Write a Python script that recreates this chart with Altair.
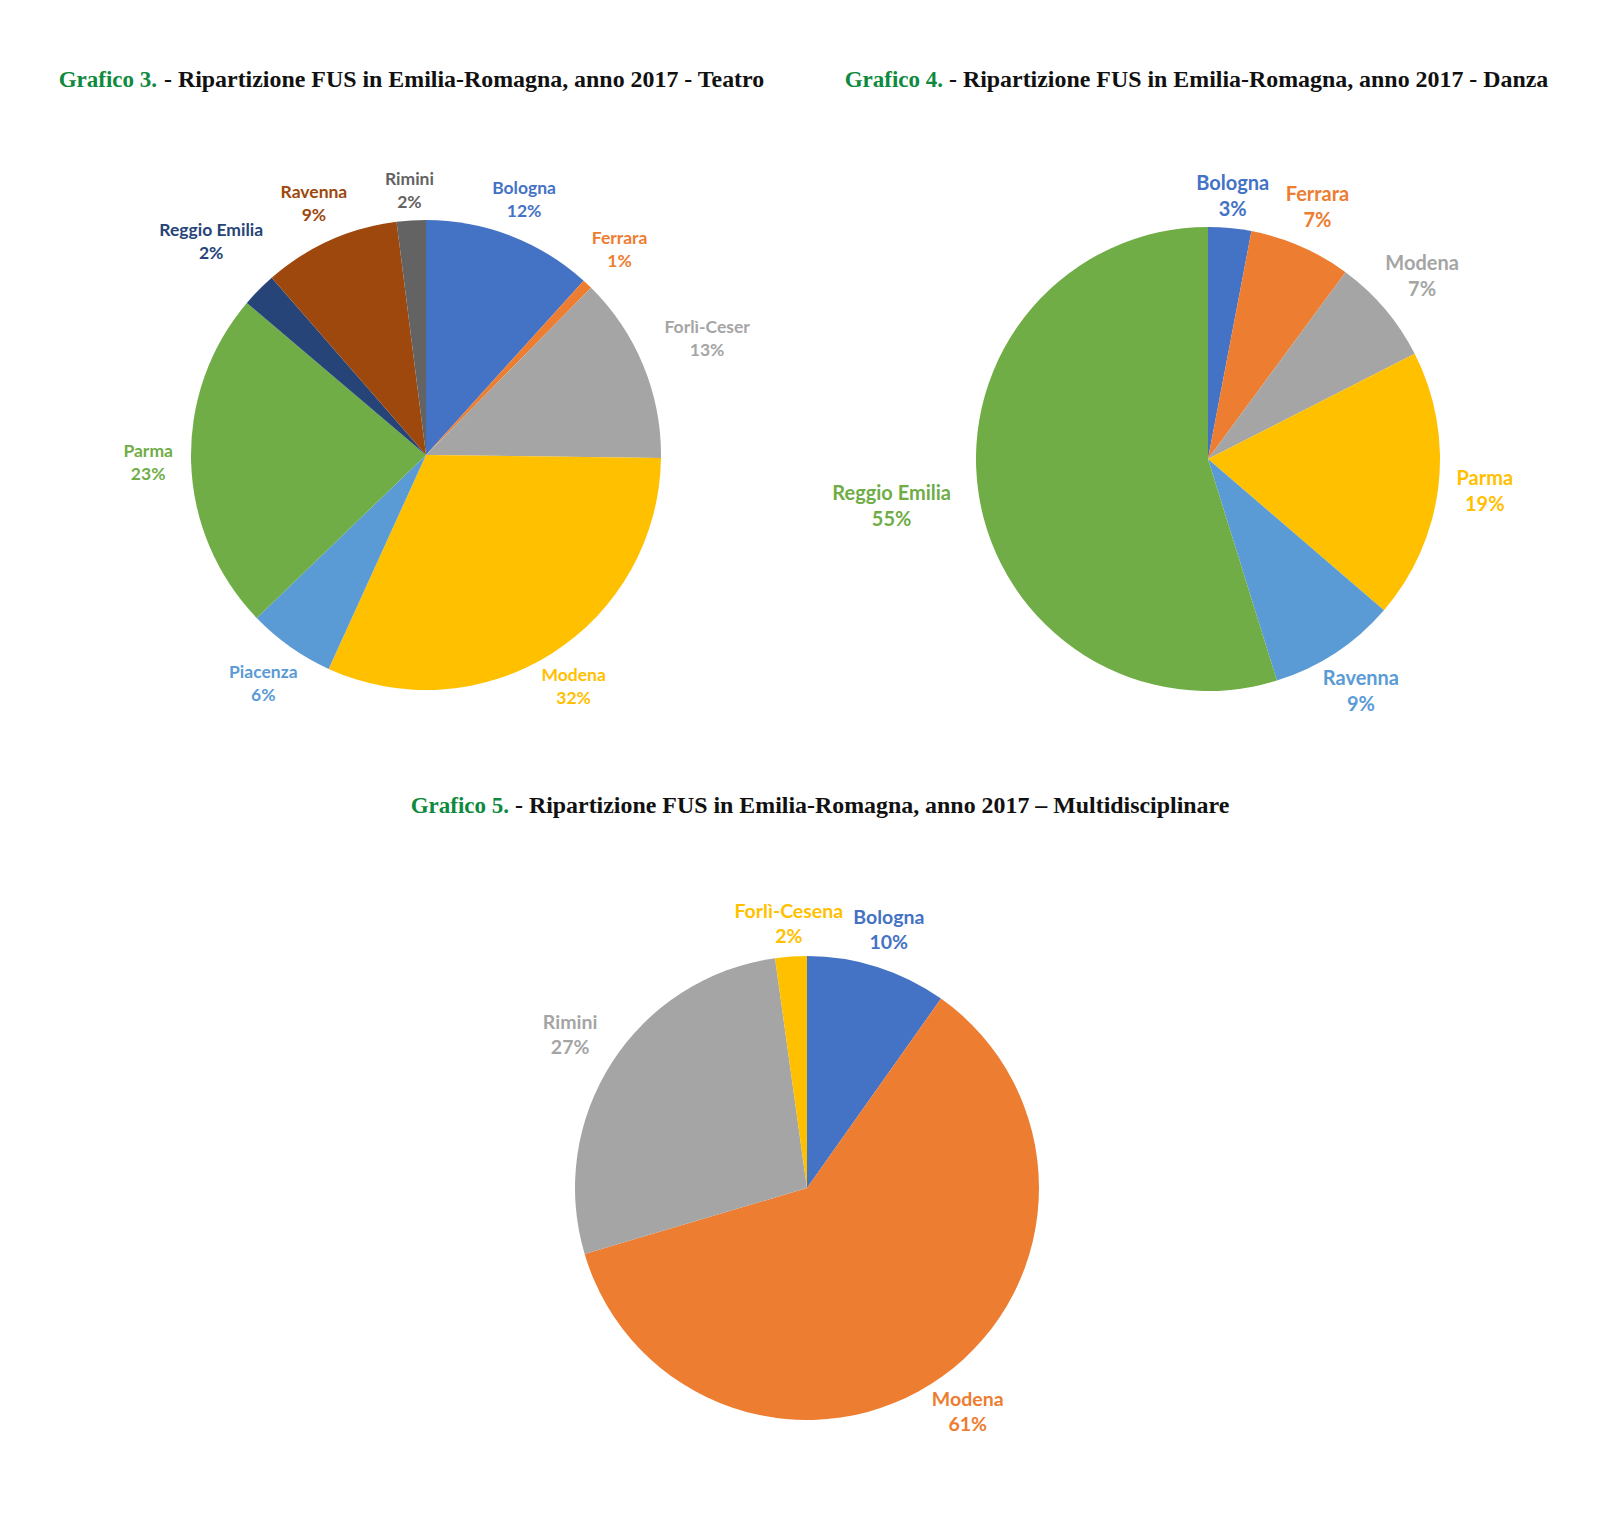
import altair as alt
import pandas as pd

# ---------------- data ----------------
teatro_cat = ["Bologna", "Ferrara", "Forlì-Cesena", "Modena", "Piacenza",
              "Parma", "Reggio Emilia", "Ravenna", "Rimini"]
teatro_lab = ["Bologna", "Ferrara", "Forlì-Ceser", "Modena", "Piacenza",
              "Parma", "Reggio Emilia", "Ravenna", "Rimini"]
teatro_val = [11.7, 0.7, 12.8, 31.6, 6.0, 23.4, 2.4, 9.4, 2.0]
teatro_col = ["#4472C4", "#ED7D31", "#A5A5A5", "#FFC000", "#5B9BD5",
              "#70AD47", "#264478", "#9E480E", "#636363"]

danza_cat = ["Bologna", "Ferrara", "Modena", "Parma", "Ravenna", "Reggio Emilia"]
danza_val = [3.0, 7.1, 7.4, 18.8, 8.9, 54.8]
danza_col = ["#4472C4", "#ED7D31", "#A5A5A5", "#FFC000", "#5B9BD5", "#70AD47"]

multi_cat = ["Bologna", "Modena", "Rimini", "Forlì-Cesena"]
multi_val = [9.8, 60.6, 27.4, 2.2]
multi_col = ["#4472C4", "#ED7D31", "#A5A5A5", "#FFC000"]

title_num = ["Grafico 3.", "Grafico 4.", "Grafico 5."]
title_txt = ["- Ripartizione FUS in Emilia-Romagna, anno 2017 - Teatro",
             "- Ripartizione FUS in Emilia-Romagna, anno 2017 - Danza",
             "- Ripartizione FUS in Emilia-Romagna, anno 2017 \u2013 Multidisciplinare"]

GREEN = "#0E8A3E"
LABEL_FONT = "Lato"
TITLE_FONT = "Liberation Serif"


def frame(cats, labs, vals, cols):
    return pd.DataFrame({
        "i": list(range(len(cats))),
        "cat": cats,
        "name": labs,
        "v": vals,
        "c": cols,
        "t": [f"{n}\n{round(v)}%" for n, v in zip(labs, vals)],
    })


def pie(df, cx, cy, R, fs, lh, gap=20):
    cw = 0.52 * fs
    base = alt.Chart(df).transform_window(
        cum="sum(v)", sort=[alt.SortField("i")]
    ).transform_joinaggregate(
        total="sum(v)"
    ).transform_calculate(
        a0="2*PI*(datum.cum - datum.v)/datum.total",
        a1="2*PI*datum.cum/datum.total",
        mid="2*PI*(datum.cum - datum.v/2)/datum.total",
    ).transform_calculate(
        lr=f"{R + gap} + abs(sin(datum.mid))*length(datum.name)*{cw}/2 + abs(cos(datum.mid))*{0.3 * lh}",
    )
    arc = base.mark_arc(outerRadius=R).encode(
        theta=alt.Theta("a0:Q", scale=None),
        theta2=alt.Theta2("a1:Q"),
        color=alt.Color("c:N", scale=None),
        x=alt.value(cx), y=alt.value(cy),
    )
    text = base.mark_text(
        font=LABEL_FONT, fontWeight="bold", fontSize=fs, lineHeight=lh,
        lineBreak="\n", align="center", baseline="middle", dy=-lh / 2,
    ).encode(
        theta=alt.Theta("mid:Q", scale=None),
        radius=alt.Radius("lr:Q", scale=None),
        text="t:N",
        color=alt.Color("c:N", scale=None),
        x=alt.value(cx), y=alt.value(cy),
    )
    return arc, text


def title(k, x_num_end, x_txt, y):
    num = alt.Chart(pd.DataFrame({"t": [title_num[k]]})).mark_text(
        font=TITLE_FONT, fontWeight="bold", fontSize=23, color=GREEN,
        align="right", baseline="alphabetic",
    ).encode(text="t:N", x=alt.value(x_num_end), y=alt.value(y))
    txt = alt.Chart(pd.DataFrame({"t": [title_txt[k]]})).mark_text(
        font=TITLE_FONT, fontWeight="bold", fontSize=23.9, color="#111111",
        align="left", baseline="alphabetic",
    ).encode(text="t:N", x=alt.value(x_txt), y=alt.value(y))
    return num, txt


t_df = frame(teatro_cat, teatro_lab, teatro_val, teatro_col)
d_df = frame(danza_cat, danza_cat, danza_val, danza_col)
m_df = frame(multi_cat, multi_cat, multi_val, multi_col)

a1, l1 = pie(t_df, 418, 447, 235, 17.5, 23)
a2, l2 = pie(d_df, 1200, 451, 232, 20, 26)
a3, l3 = pie(m_df, 799, 1180, 232, 19.5, 25)

n1, s1 = title(0, 149, 156, 79)
n2, s2 = title(1, 935, 941, 79)
n3, s3 = title(2, 501, 507, 805)

chart = alt.layer(
    a1, l1, a2, l2, a3, l3, n1, s1, n2, s2, n3, s3
).properties(
    width=1598, height=1505,
    autosize=alt.AutoSizeParams(type="none"),
    padding=0,
    background="white",
).configure_view(stroke=None)

chart.save("out.html", embed_options={"renderer": "svg", "actions": False})
